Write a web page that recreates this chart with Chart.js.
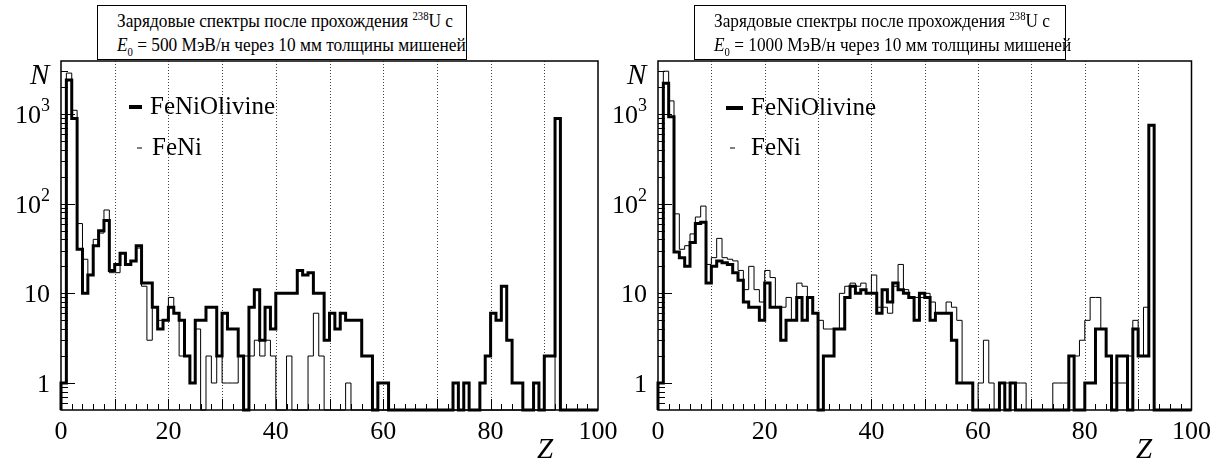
<!DOCTYPE html>
<html>
<head>
<meta charset="utf-8">
<script src="https://cdn.jsdelivr.net/npm/chart.js@4.4.0/dist/chart.umd.min.js"></script>
<style>
  html, body { margin: 0; padding: 0; background: #fff; }
  #page { position: relative; width: 1218px; height: 461px; overflow: hidden;
          font-family: "Liberation Serif", "DejaVu Serif", serif; color: #000; }
  canvas { position: absolute; top: 0; }
  .title { position: absolute; box-sizing: border-box; border: 1px solid #000; background: #fff;
           font-size: 19px; line-height: 24px; padding: 3px 0 0 19px; white-space: nowrap; }
  .title span { display: inline-block; transform: scaleX(0.91); transform-origin: 0 0; }
  .title sup, .title sub { font-size: 0.62em; line-height: 0; }
  .axt { position: absolute; font-style: italic; font-size: 29px; line-height: 29px; }
</style>
</head>
<body>
<div id="page">
  <canvas id="left" width="640" height="461" style="left:0"></canvas>
  <canvas id="right" width="618" height="461" style="left:600px"></canvas>

  <div class="title" style="left:97px; top:5px; width:370px; height:55px;"><span>Зарядовые спектры после прохождения <sup>238</sup>U с<br><i>E</i><sub>0</sub> = 500 МэВ/н через 10 мм толщины мишеней</span></div>
  <div class="title" style="left:694px; top:5px; width:372px; height:55px;"><span>Зарядовые спектры после прохождения <sup>238</sup>U с<br><i>E</i><sub>0</sub> = 1000 МэВ/н через 10 мм толщины мишеней</span></div>

  <div class="axt" style="left:30px; top:60px;">N</div>
  <div class="axt" style="left:627px; top:60px;">N</div>
  <div class="axt" style="left:537px; top:434px;">Z</div>
  <div class="axt" style="left:1136px; top:434px;">Z</div>
</div>

<script>
// charge Z, one bin per unit, lower edges 0..99
const binEdges = Array.from({ length: 100 }, (_, i) => i);

const xTicks = [0, 20, 40, 60, 80, 100];
const gridZ = [10, 20, 30, 40, 50, 60, 70, 80, 90];
const yTicks = [1, 10, 100, 1000];
const yTickBase = ['1', '10', '10', '10'];
const yTickExp = ['', '', '2', '3'];

// E0 = 500 MeV/n
const olivine500 = [
  1, 2400, 890, 31, 10, 16, 34, 50, 65, 18,
  21, 28, 21, 23, 34, 13, 13, 7, 4, 5,
  7, 6, 5, 2, 1, 5, 5, 7, 7, 2,
  6, 4, 4, 2, 0, 7, 11, 3, 7, 4,
  10, 10, 10, 10, 18, 16, 17, 10, 10, 3,
  6, 4, 6, 5, 5, 5, 2, 2, 0, 1,
  1, 0, 0, 0, 0, 0, 0, 0, 0, 0,
  0, 0, 0, 1, 0, 1, 0, 0, 1, 2,
  6, 5, 12, 3, 1, 1, 0, 0, 1, 0,
  2, 2, 890, 0, 0, 0, 0, 0, 0, 0
];
const feni500 = [
  1, 2860, 1100, 60, 24, 16, 40, 47, 85, 17,
  17, 28, 21, 23, 32, 12, 3, 7, 5, 5,
  9, 6, 2, 2, 1, 4, 0, 2, 1, 2,
  1, 1, 1, 2, 2, 2, 3, 2, 3, 2,
  0, 0, 2, 0, 0, 0, 2, 6, 2, 0,
  0, 0, 0, 1, 0, 0, 0, 0, 0, 0,
  0, 0, 0, 0, 0, 0, 0, 0, 0, 0,
  0, 0, 0, 0, 0, 0, 0, 0, 0, 0,
  0, 0, 0, 0, 0, 0, 0, 0, 0, 0,
  0, 0, 870, 0, 0, 0, 0, 0, 0, 0
];

// E0 = 1000 MeV/n
const olivine1000 = [
  1, 2200, 930, 29, 25, 20, 37, 60, 62, 13,
  20, 23, 22, 21, 17, 14, 8, 7, 7, 5,
  13, 7, 7, 3, 5, 5, 9, 5, 9, 6,
  0, 2, 2, 4, 4, 9, 12, 10, 11, 10,
  10, 6, 11, 8, 13, 11, 10, 9, 5, 10,
  9, 5, 6, 6, 6, 3, 1, 1, 1, 0,
  0, 0, 0, 0, 1, 0, 1, 0, 0, 0,
  0, 0, 0, 0, 0, 0, 0, 2, 0, 0,
  1, 1, 4, 4, 2, 0, 2, 2, 0, 4,
  2, 2, 750, 0, 0, 0, 0, 0, 0, 0
];
const feni1000 = [
  1, 3000, 1400, 77, 31, 34, 46, 71, 94, 21,
  25, 41, 25, 24, 23, 18, 11, 20, 11, 8,
  18, 15, 7, 7, 9, 5, 13, 12, 9, 6,
  5, 4, 4, 4, 10, 12, 13, 12, 13, 10,
  16, 7, 7, 6, 12, 21, 11, 9, 9, 9,
  10, 8, 6, 6, 8, 7, 5, 1, 1, 0,
  1, 3, 1, 0, 1, 1, 1, 1, 1, 0,
  0, 0, 0, 0, 1, 1, 1, 2, 2, 3,
  5, 9, 9, 4, 2, 1, 1, 1, 2, 5,
  2, 7, 740, 0, 0, 0, 0, 0, 0, 0
];

const Y_MIN = 0.5;
const Y_MAX = 3900;
const PLOT_TOP = 61;
const PLOT_BOTTOM = 410;
const H = 461;
const serif = '"Liberation Serif", "DejaVu Serif", serif';

// empty bins sit on the bottom of the frame, as ROOT draws them
const stepPoints = (vals) => {
  const pts = [{ x: 0, y: Y_MIN }];
  vals.forEach((v, i) => pts.push({ x: binEdges[i], y: Math.max(v, Y_MIN) }));
  pts.push({ x: 100, y: Y_MIN });
  return pts;
};

const rootPanel = {
  id: 'rootPanel',
  beforeDatasetsDraw(chart) {
    const { ctx, chartArea: a } = chart;
    const x = chart.scales.x;
    ctx.save();
    ctx.strokeStyle = '#444';
    ctx.lineWidth = 1;
    ctx.setLineDash([1, 2]);
    gridZ.forEach((z) => {
      const px = Math.round(x.getPixelForValue(z)) + 0.5;
      ctx.beginPath();
      ctx.moveTo(px, a.top);
      ctx.lineTo(px, a.bottom);
      ctx.stroke();
    });
    ctx.restore();
  },
  afterDatasetsDraw(chart, args, opts) {
    const { ctx, chartArea: a } = chart;
    const x = chart.scales.x;
    const y = chart.scales.y;
    const seg = (x0, y0, x1, y1) => {
      ctx.beginPath();
      ctx.moveTo(x0, y0);
      ctx.lineTo(x1, y1);
      ctx.stroke();
    };
    ctx.save();
    ctx.strokeStyle = '#000';
    ctx.lineWidth = 1;

    // ticks inside the frame
    for (let z = 2; z < 100; z += 2) {
      const px = Math.round(x.getPixelForValue(z)) + 0.5;
      seg(px, a.bottom, px, a.bottom - (z % 10 === 0 ? 11 : 6));
    }
    for (let d = -1; d <= 3; d++) {
      for (let k = 1; k <= 9; k++) {
        const v = k * Math.pow(10, d);
        if (v <= Y_MIN || v >= Y_MAX) continue;
        const py = Math.round(y.getPixelForValue(v)) + 0.5;
        seg(a.left, py, a.left + (k === 1 ? 14 : 7), py);
      }
    }

    ctx.lineWidth = 1.5;
    ctx.strokeRect(a.left, a.top, a.right - a.left, a.bottom - a.top);

    // y labels: 1, 10, 10^2, 10^3
    ctx.fillStyle = '#000';
    ctx.textBaseline = 'alphabetic';
    const rightEdge = a.left - 11;
    yTicks.forEach((v, i) => {
      const py = y.getPixelForValue(v);
      ctx.font = '18px ' + serif;
      const ew = yTickExp[i] ? ctx.measureText(yTickExp[i]).width : 0;
      if (ew) {
        ctx.textAlign = 'left';
        ctx.fillText(yTickExp[i], rightEdge - ew, py - 3);
      }
      ctx.font = '26px ' + serif;
      ctx.textAlign = 'right';
      ctx.fillText(yTickBase[i], rightEdge - ew, py + 9);
    });

    // legend
    const lg = opts.legend;
    const ds = chart.data.datasets;
    ctx.lineWidth = 4;
    seg(a.left + lg.bar[0], a.top + lg.row1, a.left + lg.bar[1], a.top + lg.row1);
    ctx.lineWidth = 1;
    seg(a.left + lg.dash[0], a.top + lg.row2, a.left + lg.dash[1], a.top + lg.row2);
    ctx.font = '25px ' + serif;
    ctx.textAlign = 'left';
    ctx.textBaseline = 'middle';
    ctx.fillText(ds[0].label, a.left + lg.text1, a.top + lg.row1);
    ctx.fillText(ds[1].label, a.left + lg.text2, a.top + lg.row2);
    ctx.restore();
  }
};

function makePanel(id, yAxisWidth, rightPad, olivine, feni, legend) {
  return new Chart(document.getElementById(id), {
    type: 'line',
    data: {
      datasets: [
        {
          label: 'FeNiOlivine',
          data: stepPoints(olivine),
          borderColor: '#000',
          borderWidth: 3,
          stepped: true,
          pointRadius: 0,
          fill: false,
          clip: 6,
          borderJoinStyle: 'miter',
          borderCapStyle: 'butt',
        },
        {
          label: 'FeNi',
          data: stepPoints(feni),
          borderColor: '#000',
          borderWidth: 1,
          stepped: true,
          pointRadius: 0,
          fill: false,
          clip: 6,
          borderJoinStyle: 'miter',
        },
      ],
    },
    options: {
      responsive: false,
      animation: false,
      events: [],
      layout: {
        autoPadding: false,
        padding: { left: 0, top: PLOT_TOP, right: rightPad, bottom: 0 },
      },
      scales: {
        x: {
          type: 'linear',
          min: 0,
          max: 100,
          grid: { display: false, drawTicks: false },
          border: { display: false },
          afterBuildTicks: (s) => { s.ticks = xTicks.map((v) => ({ value: v })); },
          afterFit: (s) => { s.height = H - PLOT_BOTTOM; },
          ticks: { color: '#000', font: { family: serif, size: 26 }, padding: 7, maxRotation: 0, autoSkip: false },
        },
        y: {
          type: 'logarithmic',
          min: Y_MIN,
          max: Y_MAX,
          grid: { display: false, drawTicks: false },
          border: { display: false },
          afterBuildTicks: (s) => { s.ticks = yTicks.map((v) => ({ value: v })); },
          afterFit: (s) => { s.width = yAxisWidth; },
          ticks: { display: false },
        },
      },
      plugins: {
        legend: { display: false },
        tooltip: { enabled: false },
        rootPanel: { legend },
      },
    },
    plugins: [rootPanel],
  });
}

makePanel('left', 61, 42, olivine500, feni500,
  { bar: [68, 81], dash: [76, 81], row1: 46, row2: 87, text1: 89, text2: 91 });
makePanel('right', 58, 23, olivine1000, feni1000,
  { bar: [68, 85], dash: [72, 77], row1: 47, row2: 87, text1: 93, text2: 93 });
</script>
</body>
</html>
